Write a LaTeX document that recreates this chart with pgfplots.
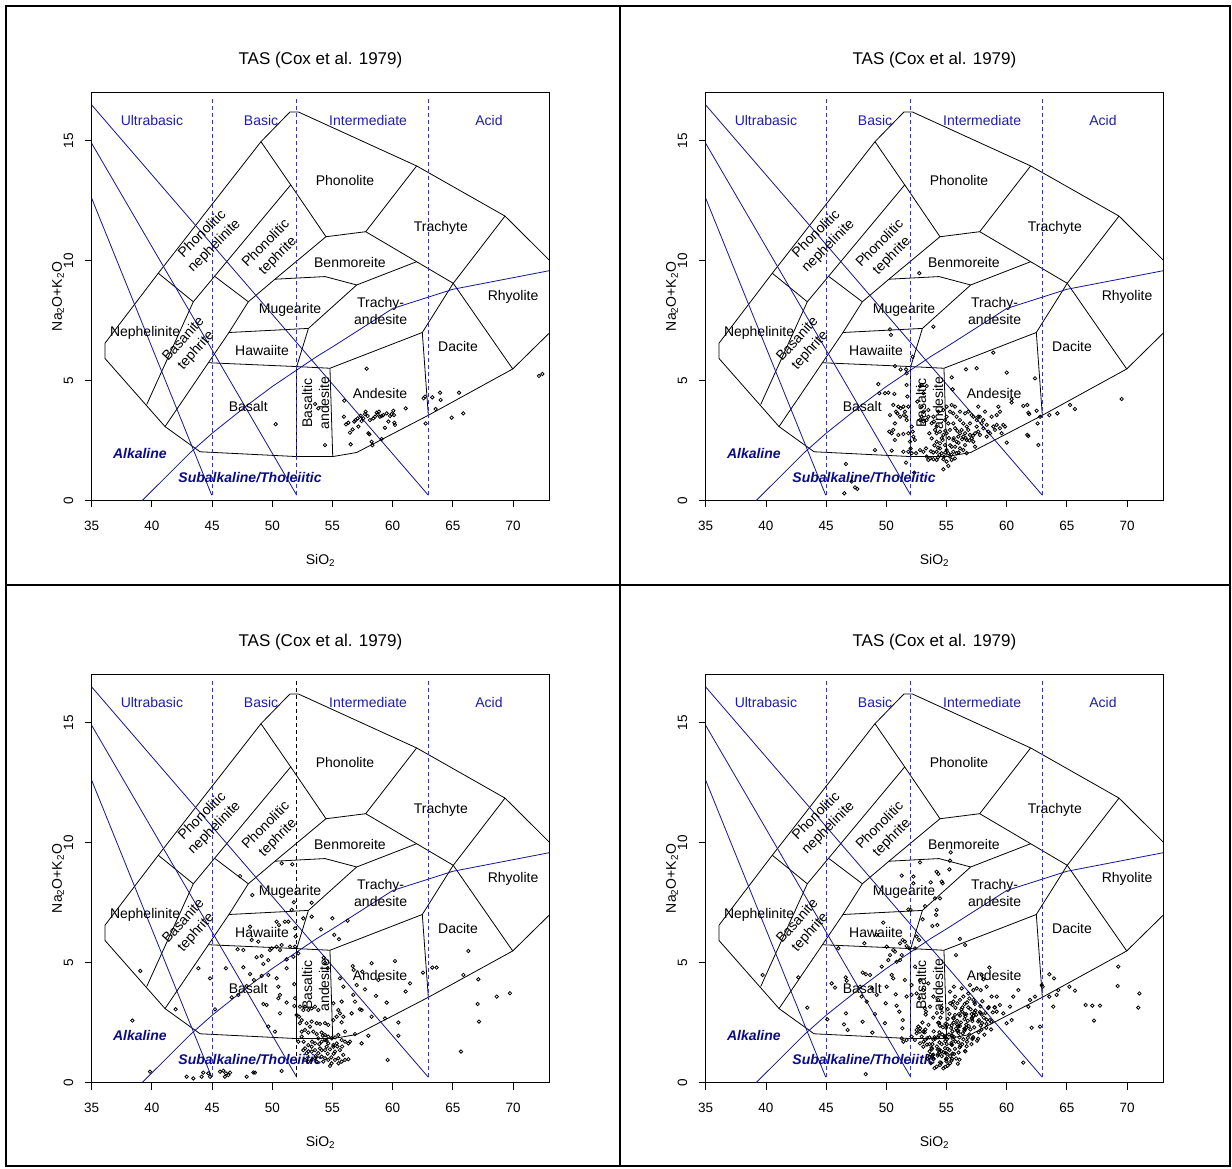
\documentclass[border=0pt]{standalone}
\usepackage{fontspec}
\setmainfont{Liberation Sans}
\usepackage{pgfplots}
\pgfplotsset{compat=1.18}
\definecolor{bline}{RGB}{20,20,150}
\definecolor{dline}{RGB}{50,50,205}
\definecolor{blab}{RGB}{30,30,170}
\definecolor{alab}{RGB}{10,10,140}
\newcommand{\fs}[1]{\fontsize{#1}{#1}\selectfont}
\newcommand{\lf}{\fontsize{14}{17}\selectfont}
\pgfplotsset{
  tas/.style={
    scale only axis, width=457.5pt, height=408pt,
    xmin=35, xmax=73, ymin=0, ymax=17,
    xtick={35,40,...,70}, ytick={0,5,10,15},
    tick align=outside, xtick pos=bottom, ytick pos=left,
    major tick length=7pt,
    axis line style={line width=0.8pt},
    tick style={line width=0.8pt, black},
    /pgf/number format/assume math mode=true,
    tick label style={font=\fs{13.5}},
    yticklabel style={rotate=90, anchor=south},
    xticklabel shift=10pt,
    yticklabel shift=8pt,
    title={TAS (Cox et al. 1979)},
    title style={font=\fs{17}, at={(axis description cs:0.5,1.065)}, anchor=center},
    xlabel={SiO\textsubscript{2}},
    ylabel={Na\textsubscript{2}O+K\textsubscript{2}O},
    label style={font=\fs{14}},
    xlabel style={at={(axis description cs:0.5,-0.146)}, anchor=center},
    ylabel style={at={(axis description cs:-0.0737,0.5)}, anchor=center},
    clip=true,
  },
  pts/.style={only marks, mark=o, mark size=1.7pt, mark options={line width=0.8pt, black}},
}
\newcommand{\tasbase}[1]{%
 \addplot[black, line width=0.8pt] coordinates {(73.5,9.77) (69.33,11.85) (61.99,13.94) (52.16,16.19) (51.47,16.19) (49.06,14.95) (40.53,9.47) (36.1,6.55) (36.1,5.92) (41.09,3.08) (44.0,2.03) (52.03,1.83) (55.02,1.83) (57.01,2.0) (62.96,3.55) (69.97,5.48) (73.5,7.22)};
 \addplot[black, line width=0.8pt] coordinates {(40.53,9.47) (43.44,8.28) (39.57,4.0)};
 \addplot[black, line width=0.8pt] coordinates {(43.44,8.28) (51.53,13.15)};
 \addplot[black, line width=0.8pt] coordinates {(49.06,14.95) (51.53,13.15) (54.46,10.99) (57.76,11.2) (61.99,13.94)};
 \addplot[black, line width=0.8pt] coordinates {(45.24,9.33) (48.01,8.28) (46.4,7.0) (41.09,3.08)};
 \addplot[black, line width=0.8pt] coordinates {(48.01,8.28) (50.22,9.22) (54.46,10.99)};
 \addplot[black, line width=0.8pt] coordinates {(57.76,11.2) (65.03,9.05)};
 \addplot[black, line width=0.8pt] coordinates {(50.22,9.22) (54.38,9.33) (57.01,8.98) (61.99,9.95)};
 \addplot[black, line width=0.8pt] coordinates {(57.01,8.98) (53.0,7.17) (52.03,5.58)};
 \addplot[black, line width=0.8pt] coordinates {(46.4,7.0) (53.0,7.17)};
 \addplot[black, line width=0.8pt] coordinates {(44.69,5.74) (52.03,5.58) (54.79,5.51)};
 \addplot[black, line width=0.8pt] coordinates {(52.03,5.58) (52.03,1.83)};
 \addplot[black, line width=0.8pt] coordinates {(54.79,5.51) (55.02,1.83)};
 \addplot[black, line width=0.8pt] coordinates {(54.79,5.51) (62.46,7.0) (65.03,9.05)};
 \addplot[black, line width=0.8pt] coordinates {(62.46,7.0) (62.96,3.55)};
 \addplot[black, line width=0.8pt] coordinates {(69.97,5.48) (65.03,9.05) (69.33,11.85)};
 \addplot[bline, line width=0.8pt] coordinates {(39.2,0) (40,0.4) (43.2,2) (45,2.8) (48,4) (50,4.75) (53.7,6) (55,6.4) (60,8) (65,8.8) (77.4,10)};
 \addplot[bline, line width=0.8pt] coordinates {(35,16.48) (62.96,0.22)};
 \addplot[bline, line width=0.8pt] coordinates {(35,14.88) (52.03,0.22)};
 \addplot[bline, line width=0.8pt] coordinates {(35,12.59) (44.97,0.22)};
 \addplot[dline, line width=0.8pt, dash pattern=on 4pt off 3pt] coordinates {(45,0.22) (45,16.8)};
 \addplot[#1, line width=0.8pt, dash pattern=on 4pt off 3pt] coordinates {(52,0.22) (52,16.8)};
 \addplot[dline, line width=0.8pt, dash pattern=on 4pt off 3pt] coordinates {(63,0.22) (63,16.8)};
 \node[blab, font=\lf] at (axis cs:40.0,15.85) {Ultrabasic};
 \node[blab, font=\lf] at (axis cs:49.07,15.85) {Basic};
 \node[blab, font=\lf] at (axis cs:57.96,15.85) {Intermediate};
 \node[blab, font=\lf] at (axis cs:68.0,15.85) {Acid};
 \node[font=\lf] at (axis cs:56.04,13.35) {Phonolite};
 \node[font=\lf] at (axis cs:64.0,11.36) {Trachyte};
 \node[font=\lf] at (axis cs:56.45,9.9) {Benmoreite};
 \node[font=\lf] at (axis cs:70.0,8.48) {Rhyolite};
 \node[font=\lf, align=center] at (axis cs:59.0,7.9) {Trachy-\\andesite};
 \node[font=\lf] at (axis cs:51.48,7.94) {Mugearite};
 \node[font=\lf] at (axis cs:39.43,6.98) {Nephelinite};
 \node[font=\lf] at (axis cs:49.15,6.23) {Hawaiite};
 \node[font=\lf] at (axis cs:65.43,6.4) {Dacite};
 \node[font=\lf] at (axis cs:58.95,4.44) {Andesite};
 \node[font=\lf] at (axis cs:48.0,3.9) {Basalt};
 \node[font=\lf, align=center, rotate=90] at (axis cs:53.6,4.06) {Basaltic\\andesite};
 \node[font=\lf, align=center, rotate=45] at (axis cs:44.7,10.85) {Phonolitic\\nephelinite};
 \node[font=\lf, align=center, rotate=45] at (axis cs:49.99,10.44) {Phonolitic\\tephrite};
 \node[font=\lf, align=center, rotate=48] at (axis cs:43.16,6.48) {Basanite\\tephrite};
 \node[alab, font=\bfseries\itshape\lf] at (axis cs:39.0,1.94) {Alkaline};
 \node[alab, font=\bfseries\itshape\lf] at (axis cs:48.15,0.94) {Subalkaline/Tholeiitic};
}
\begin{document}
\begin{tikzpicture}
\useasboundingbox (0,0) rectangle (1232pt,1168pt);
\fill[white] (0,0) rectangle (1232pt,1168pt);
% Panel 1
\begin{axis}[tas, at={(91.7pt,667.5pt)}, anchor=south west]
\tasbase{dline}
\addplot[pts] coordinates {(57.84,5.49) (55.98,4.16) (56.51,2.34) (54.38,2.31) (53.82,3.84) (53.55,4.02) (55.95,3.49) (56.12,3.17) (56.31,3.24) (56.45,2.83) (56.67,2.96) (56.81,3.29) (56.92,3.35) (57.09,3.42) (57.15,3.08) (57.34,3.53) (57.42,3.31) (57.56,3.42) (57.70,3.60) (57.75,3.70) (57.92,3.52) (57.98,2.80) (58.06,2.76) (58.11,3.35) (58.25,2.45) (58.31,2.30) (58.39,3.42) (58.53,3.49) (58.67,3.66) (58.75,3.60) (58.86,3.70) (58.94,3.49) (59.08,3.52) (59.22,3.56) (59.36,3.03) (59.50,3.63) (59.64,3.29) (59.78,3.52) (59.91,3.60) (60.05,3.74) (60.11,3.56) (60.14,3.24) (60.19,3.15) (59.08,2.56) (61.08,3.84) (62.57,4.26) (62.68,4.33) (63.29,4.30) (63.93,4.49) (63.98,4.19) (63.57,3.81) (62.74,3.21) (64.90,3.45) (65.51,4.49) (65.87,3.63) (72.15,5.19) (72.43,5.27) (50.28,3.18)};
\end{axis}
% Panel 2
\begin{axis}[tas, at={(705.7pt,667.5pt)}, anchor=south west]
\tasbase{dline}
\addplot[pts] coordinates {(52.74,9.47) (53.91,7.24) (50.31,7.13) (50.39,6.90) (52.19,5.99) (50.72,5.60) (51.19,5.46) (51.64,5.46) (51.69,5.30) (56.62,5.46) (57.51,5.51) (60.00,5.33) (62.35,5.09) (58.89,6.16) (55.43,5.13) (49.34,4.85) (49.42,4.47) (49.89,4.47) (50.17,4.49) (50.67,4.44) (51.69,4.81) (51.75,4.33) (52.94,4.81) (53.35,4.77) (55.51,4.63) (60.41,4.22) (60.41,4.08) (61.38,3.94) (61.71,3.98) (61.88,3.60) (61.80,3.66) (62.49,3.74) (62.77,3.49) (63.54,3.56) (64.21,3.63) (65.26,3.98) (65.67,3.81) (69.55,4.23) (62.57,3.21) (60.00,2.41) (61.71,2.73) (61.80,2.69) (62.63,2.31) (49.06,2.10) (50.45,2.08) (51.64,1.58) (46.65,1.52) (52.33,1.16) (47.12,0.79) (47.40,0.55) (47.59,0.48) (46.51,0.30) (54.74,1.30) (55.15,1.44) (55.43,1.69)
(50.31,3.56) (50.81,3.70) (50.92,3.63) (51.00,3.91) (51.19,3.84) (51.42,3.91) (51.47,3.56) (51.83,3.91) (51.64,3.49) (51.69,3.35) (50.72,3.21) (50.58,2.94) (50.25,2.87) (50.45,2.80) (51.00,2.73) (51.42,2.77) (51.83,2.80) (50.72,2.52) (52.11,3.08) (52.19,2.87) (51.97,2.45) (52.25,2.66) (52.38,2.52) (52.02,2.17) (51.42,2.03) (51.83,2.03) (52.11,1.97) (52.47,1.97) (51.14,3.49) (50.58,3.98) (51.55,3.70)
(52.80,4.77) (53.08,4.47) (52.94,3.49) (53.08,3.29) (53.35,3.35) (53.49,3.49) (53.77,3.22) (53.96,3.29) (54.05,2.94) (54.18,3.08) (53.57,2.80) (53.77,2.59) (54.18,2.45) (54.46,2.38) (54.68,2.52) (54.88,2.31) (54.46,2.17) (54.18,2.03) (54.41,1.90) (54.60,1.97) (54.79,1.83) (53.63,1.76) (53.91,1.72) (53.35,1.83) (53.08,2.03) (52.80,2.10) (53.30,2.17) (55.01,2.10) (55.15,1.97) (55.29,1.83) (55.57,2.03) (55.43,2.24) (55.71,2.24) (55.57,2.52) (55.84,2.45) (55.98,2.66) (56.12,2.80) (56.26,2.94) (56.40,2.66) (56.54,2.80) (56.68,2.52) (56.81,2.94) (56.95,2.73) (57.09,2.59) (57.23,2.45) (57.37,2.80) (57.51,3.08) (57.64,2.87) (57.78,2.73) (57.92,3.22) (58.06,3.01) (58.34,3.15) (58.47,2.87) (58.61,2.80) (58.89,3.08) (59.03,2.94) (59.17,3.15) (59.44,3.01) (59.58,2.80) (59.72,3.15) (59.86,3.08) (58.06,3.35) (57.78,3.49) (57.51,3.35) (56.95,3.21) (56.68,3.08) (56.40,3.21) (56.12,3.35) (55.84,3.49) (55.57,3.63) (55.29,3.70) (55.01,3.49) (54.88,3.35) (55.15,3.21) (55.57,3.21) (55.71,3.01) (55.29,2.94) (55.01,2.80) (54.74,2.73) (54.46,2.87) (54.18,2.80) (53.91,3.49) (54.32,3.70) (54.74,3.77) (55.01,3.91) (55.43,3.98) (55.71,3.91) (56.12,3.70) (56.54,3.63) (56.81,3.70) (57.09,3.56) (57.23,3.49) (57.64,3.91) (58.20,3.70) (58.75,3.49) (59.17,3.56) (59.31,3.91) (59.44,3.70) (57.64,3.49) (56.12,2.17) (56.40,2.10) (55.84,1.97) (56.68,1.97) (54.74,1.72) (55.01,1.62) (54.18,1.69) (53.49,1.69) (57.37,2.24) (58.34,2.66) (56.54,2.31) (52.58,4.12) (52.94,3.91) (53.49,3.77) (53.08,3.70) (52.80,3.35)
(54.3,2.2) (54.9,2.0) (55.3,2.3) (55.6,2.6) (56.0,2.4) (56.3,2.55) (56.6,2.6) (55.2,2.6) (54.6,2.6) (54.0,2.3) (53.9,2.0) (55.4,1.9) (56.0,2.0) (56.9,2.5) (57.2,2.7) (55.9,2.9) (54.9,2.9) (54.3,1.8) (53.7,2.05) (55.7,1.75)};
\end{axis}
% Panel 3
\begin{axis}[tas, at={(91.7pt,85.5pt)}, anchor=south west]
\tasbase{black}
\addplot[pts] coordinates {(50.78,9.13) (51.66,9.09) (47.32,8.60) (48.34,7.81) (51.80,7.51) (53.27,7.49) (51.61,7.19) (52.58,6.84) (51.05,6.70) (50.36,6.70) (50.56,6.56) (51.33,6.70) (48.15,6.49) (48.29,5.94) (48.84,5.87) (51.89,6.42) (51.94,6.08) (53.27,6.91) (54.05,6.38) (54.99,6.84) (56.26,6.74) (55.15,6.15) (55.54,5.97) (39.04,4.65) (38.38,2.58) (39.84,0.45) (41.97,3.05) (43.86,4.76) (44.83,4.34) (45.24,3.05) (46.15,4.76) (47.12,5.55) (47.60,5.52) (47.60,4.80) (48.15,4.52) (48.70,5.22) (49.12,5.27) (49.26,4.94) (49.67,5.10) (49.81,5.52) (49.95,5.59) (50.36,5.66) (50.64,5.52) (51.47,5.66) (51.89,5.66) (50.78,5.73) (51.19,5.13) (51.75,5.24) (52.16,5.38) (49.67,4.48) (50.36,4.34) (50.50,3.99) (51.19,4.76) (51.83,4.10) (49.12,4.44) (50.64,3.65) (49.26,3.27) (49.53,3.23) (51.19,3.33) (50.50,3.51) (51.89,3.51) (46.63,3.55) (47.18,3.65) (47.87,4.02) (48.48,4.27) (49.67,2.33) (50.22,2.12) (50.64,2.88) (52.02,2.81) (51.83,3.19) (54.27,5.20) (54.38,4.99) (54.60,4.76) (56.68,4.85) (56.76,4.69) (57.48,4.62) (58.25,4.97) (60.19,5.06) (55.62,4.34) (55.90,3.99) (57.01,4.06) (57.70,3.88) (58.81,4.27) (58.61,3.61) (59.50,3.33) (61.08,3.79) (61.44,4.13) (62.52,4.58) (63.29,4.79) (63.65,4.79) (66.28,5.48) (65.87,4.48) (67.11,4.30) (67.06,3.27) (67.17,2.54) (68.64,3.58) (69.74,3.72) (65.67,1.29) (59.58,0.94) (60.47,2.50) (60.47,1.95) (59.36,2.67) (58.25,2.74) (57.42,3.02) (57.98,1.95) (57.42,1.63) (56.87,2.02) (56.04,2.12) (55.76,2.51) (56.59,2.88) (55.48,3.02) (55.76,3.37) (56.73,3.65) (56.87,3.37) (57.28,3.05) (55.07,3.30)
(42.89,0.24) (43.44,0.17) (44.13,0.24) (44.27,0.41) (44.69,0.38) (44.83,0.24) (45.66,0.45) (45.93,0.49) (46.15,0.38) (46.35,0.31) (46.49,0.41) (46.07,0.24) (47.87,0.24) (48.43,0.42) (48.56,0.41) (50.78,0.48)
(52.30,3.16) (52.58,3.02) (52.72,3.16) (52.99,3.02) (53.27,3.09) (53.55,3.16) (53.82,3.02) (52.22,2.74) (52.44,2.60) (52.85,2.47) (53.13,2.33) (53.27,2.54) (53.69,2.47) (53.96,2.44) (54.38,2.47) (54.65,2.40) (55.07,2.60) (55.35,2.74) (55.62,2.88) (55.90,2.74) (52.44,2.12) (52.72,2.19) (52.99,2.08) (53.41,2.12) (53.69,2.02) (54.10,2.08) (54.38,1.98) (54.65,1.91) (54.93,1.84) (55.21,1.88) (55.48,1.98) (55.76,1.77) (56.04,1.70) (56.32,1.63) (56.45,1.70) (55.35,1.63) (55.07,1.56) (54.65,1.63) (54.38,1.77) (54.10,1.70) (53.82,1.84) (53.55,1.63) (53.27,1.49) (52.99,1.56) (52.72,1.42) (52.58,1.35) (52.85,1.22) (53.27,1.29) (53.55,1.35) (53.82,1.22) (54.10,1.08) (54.38,1.01) (54.65,0.94) (54.93,0.80) (55.21,0.94) (55.48,1.01) (55.76,0.87) (56.04,0.94) (56.32,0.97) (55.90,1.15) (55.62,1.35) (55.21,1.29) (54.79,1.38) (54.38,1.35) (53.96,1.42) (53.55,1.01) (53.27,0.94) (52.99,0.87) (52.72,0.94) (53.69,0.87) (54.24,0.87) (54.79,0.69) (55.07,1.49) (54.52,1.49) (52.30,2.47) (52.16,1.70) (52.44,1.91)
(54.1,1.35) (54.6,1.2) (55.1,1.2) (54.5,1.75) (53.9,1.6) (53.3,1.7) (55.4,1.5) (55.8,1.5) (53.6,1.1) (54.9,1.05) (55.5,0.8) (54.2,1.95) (53.0,1.3) (52.6,1.7)};
\end{axis}
% Panel 4
\begin{axis}[tas, at={(705.7pt,85.5pt)}, anchor=south west]
\tasbase{dline}
\addplot[pts] coordinates {(55.35,9.59) (55.29,9.24) (55.24,8.88) (52.80,9.17) (51.28,8.62) (52.25,8.58) (52.25,8.30) (53.69,8.34) (54.18,8.78) (54.32,8.69) (54.60,8.37) (54.68,8.30) (54.05,7.67) (54.46,7.67) (54.18,7.19) (54.13,6.98) (53.22,7.35) (53.02,6.80) (53.82,6.52) (54.24,6.56) (51.83,7.21) (52.02,7.19) (49.75,6.66) (49.20,6.15) (48.18,5.80) (46.02,5.59) (50.03,5.66) (50.58,5.52) (50.72,5.45) (51.14,5.80) (51.36,5.94) (51.55,5.87) (51.69,5.69) (51.28,5.31) (51.14,5.10) (50.86,5.03) (50.31,5.31) (50.17,5.10) (49.62,4.83) (51.91,5.59) (52.38,5.59) (52.52,6.08) (52.72,5.94) (56.12,5.98) (56.54,5.73) (55.79,5.31) (39.73,4.48) (42.69,4.38) (43.44,3.12) (45.10,2.63) (45.46,4.13) (45.74,3.95) (46.63,4.38) (46.71,4.24) (48.04,4.58) (48.31,4.51) (48.65,4.48) (47.82,3.99) (47.95,3.58) (48.37,3.37) (48.79,3.92) (49.20,3.65) (50.03,3.99) (50.45,4.48) (50.58,4.34) (50.78,3.67) (51.55,4.27) (52.10,3.65) (46.65,2.88) (46.49,2.42) (46.79,2.19) (48.04,2.53) (48.84,2.08) (49.06,2.85) (49.89,2.47) (49.95,3.30) (50.86,3.20) (51.08,2.95) (51.36,2.60) (51.33,2.26) (51.28,1.84) (51.42,1.70) (48.29,0.35) (58.56,4.79) (57.92,4.48) (58.06,4.30) (63.54,4.51) (63.93,4.34) (65.20,3.99) (65.67,3.83) (69.27,4.83) (69.22,4.02) (71.02,3.71) (70.93,3.12) (66.56,3.23) (67.11,3.20) (67.75,3.20) (67.25,2.58) (62.91,4.06) (62.99,3.99) (63.87,3.16) (61.38,0.83) (62.07,2.28) (62.77,2.33) (64.15,3.65) (64.29,3.85) (63.54,3.58) (62.35,3.58) (61.94,3.44) (61.80,3.16) (60.97,3.85) (60.55,3.58) (60.27,3.16) (60.41,2.60) (59.99,2.47) (59.72,2.88) (59.17,2.95) (59.44,3.23) (59.17,3.58) (58.75,3.58) (58.34,3.99) (57.51,3.92) (57.23,3.85) (56.81,3.71) (56.40,3.58) (56.12,3.44) (55.71,3.58) (55.57,3.37) (55.29,3.79) (55.62,3.99) (55.51,3.23) (56.26,3.92) (56.95,4.06) (57.84,3.85) (57.23,3.44) (52.10,4.06) (52.52,3.71) (51.69,3.58) (52.74,3.51)
(53.20,3.10) (53.27,2.83) (53.25,2.21) (53.20,2.09) (53.58,1.88) (53.59,1.60) (54.05,1.82) (53.94,2.13) (54.30,2.49) (54.38,2.48) (54.63,2.92) (54.59,3.13) (55.10,3.06) (55.25,2.86) (55.71,2.82) (55.74,3.11) (56.24,3.04) (56.32,3.13) (56.71,3.34) (56.80,3.13) (57.32,2.93) (57.47,2.82) (57.92,2.83) (57.95,2.48) (58.32,2.44) (57.84,2.37) (57.67,2.09) (57.22,1.89) (57.18,1.85) (56.77,1.86) (56.68,1.51) (56.15,1.53) (56.10,1.46) (55.63,1.19) (55.46,0.99) (55.00,0.88) (54.97,0.96) (54.56,0.82) (54.46,0.84) (53.94,0.98) (53.89,0.98) (53.41,0.99) (53.66,1.16) (53.76,1.44) (54.27,1.37) (54.42,1.67) (54.88,1.88) (54.90,1.88) (55.41,1.96) (55.49,2.13) (55.88,2.42) (55.97,2.35) (56.49,2.64) (56.64,2.85) (57.09,2.85) (57.12,2.65) (57.63,2.54) (57.15,2.56) (56.98,2.21) (56.53,2.23) (56.49,2.16) (56.08,1.88) (55.99,1.68) (55.46,1.57) (55.41,1.58) (54.93,1.23) (54.77,1.26) (54.31,1.19) (54.27,1.12) (54.42,1.26) (54.88,1.43) (54.90,1.72) (55.41,1.65) (55.49,1.95) (55.88,2.16) (55.97,2.16) (56.49,2.24) (56.64,2.41) (57.09,2.69) (56.57,2.76) (56.52,2.85) (56.04,2.85) (55.88,2.57) (55.42,2.38) (55.38,2.27) (54.97,2.28) (54.88,1.93) (54.35,1.95) (54.30,1.88) (53.83,1.60) (53.80,1.40) (53.90,1.16) (54.41,1.37) (54.56,1.30) (55.02,1.60) (55.04,1.81) (55.55,1.81) (55.63,1.89) (56.01,2.06) (56.11,2.35) (56.63,2.28) (56.77,2.57) (57.23,2.78) (57.26,2.78) (57.76,2.93) (57.84,2.89) (58.23,2.90) (58.33,2.62) (58.84,2.92) (58.99,3.13) (59.03,3.13) (58.50,3.14) (58.46,3.10) (57.98,3.39) (57.81,3.18) (57.36,3.27) (57.32,3.34) (56.50,3.27) (56.12,2.79) (55.60,2.68) (55.55,2.69) (55.07,2.41) (54.91,2.44) (54.45,2.37) (54.41,2.09) (54.01,1.89) (53.91,1.78) (53.38,1.58) (53.42,1.10) (53.83,1.12) (55.04,1.19) (55.42,0.91) (55.94,0.78) (56.08,0.95) (56.54,1.31) (56.57,1.30) (57.07,1.60) (57.15,1.81) (57.54,1.74) (57.63,1.82) (58.15,1.99) (58.30,2.28) (58.70,2.21) (58.72,2.53) (53.22,1.77) (52.94,1.91) (52.80,2.12) (52.66,2.33) (52.52,2.05) (52.38,1.77) (52.80,1.63) (53.08,1.49) (54.18,0.66) (54.46,0.73) (54.74,0.59) (55.29,0.80) (52.52,2.19) (52.80,2.26) (53.08,2.12) (52.10,1.91) (51.69,1.77) (52.38,4.83) (52.80,4.27) (53.08,3.85) (53.49,4.13) (53.91,3.58) (54.32,3.44) (53.63,3.16)
(54.2,1.5) (54.6,1.1) (55.1,1.4) (55.3,1.1) (55.7,1.4) (55.2,2.0) (54.7,2.3) (55.6,2.5) (56.2,2.5) (56.4,1.8) (56.9,2.0) (57.3,2.3) (57.7,2.6) (55.8,1.0) (55.1,0.7) (54.9,0.65) (53.6,1.3) (53.5,2.4) (53.9,2.7) (54.2,2.9) (55.3,3.3) (55.9,3.3) (56.9,3.5) (57.4,3.0) (58.1,2.7) (58.6,2.6) (53.7,0.8) (54.0,0.6) (55.0,1.0) (55.5,1.2) (56.3,1.6) (56.0,1.25) (56.7,1.7) (57.9,2.2) (54.6,1.6) (55.8,2.25) (55.1,2.65) (54.5,2.7) (56.3,2.95) (57.0,3.05) (53.4,1.85) (53.1,1.7) (53.0,2.5) (53.3,2.95) (55.25,1.35) (54.65,2.0) (55.75,1.7) (56.35,2.05) (56.85,2.35)};
\end{axis}
% frames
\draw[line width=2pt] (6pt,1162pt) rectangle (1230pt,2pt);
\draw[line width=2pt] (620pt,1162pt) -- (620pt,2pt);
\draw[line width=2pt] (6pt,583pt) -- (1230pt,583pt);
\end{tikzpicture}
\end{document}
